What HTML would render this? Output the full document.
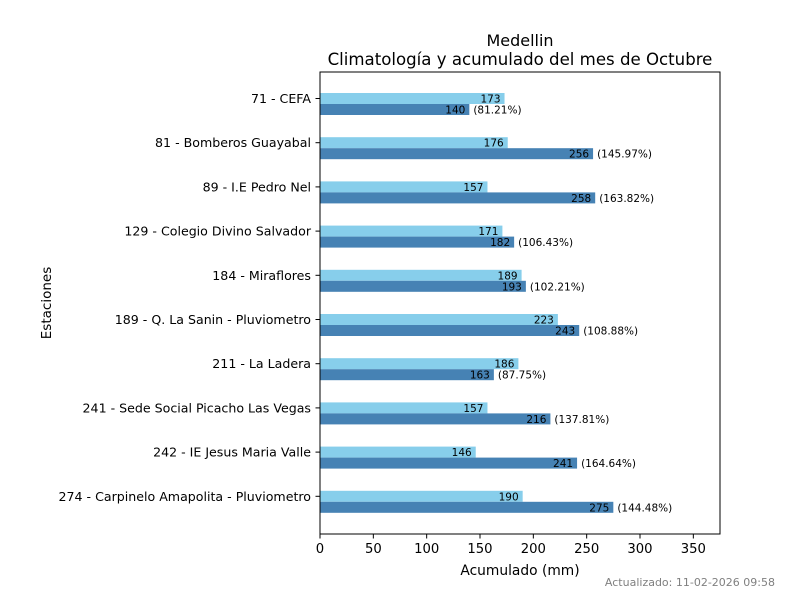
<!DOCTYPE html>
<html><head><meta charset="utf-8"><style>
body{margin:0;background:#fff}
svg{font-family:"DejaVu Sans","Liberation Sans",sans-serif}
</style></head><body>
<svg id="chart" width="800" height="600">
<rect width="800" height="600" fill="#fff"/>
<text x="520" y="46" text-anchor="middle" font-size="16">Medellin</text>
<text x="520" y="65" text-anchor="middle" font-size="16.6">Climatología y acumulado del mes de Octubre</text>
<g id="plot"></g>
<rect x="320" y="72" width="400" height="462" fill="none" stroke="#000" stroke-width="1"/>
<text x="520" y="575" text-anchor="middle" font-size="13.8">Acumulado (mm)</text>
<text x="51" y="303" text-anchor="middle" font-size="13.5" transform="rotate(-90 51 303)">Estaciones</text>
<text x="775" y="586" text-anchor="end" font-size="11" fill="#808080">Actualizado: 11-02-2026 09:58</text>
</svg>
<script>
const categories=["71 - CEFA","81 - Bomberos Guayabal","89 - I.E Pedro Nel","129 - Colegio Divino Salvador","184 - Miraflores","189 - Q. La Sanin - Pluviometro","211 - La Ladera","241 - Sede Social Picacho Las Vegas","242 - IE Jesus Maria Valle","274 - Carpinelo Amapolita - Pluviometro"];
const climatology=[173,176,157,171,189,223,186,157,146,190];
const accumulated=[140,256,258,182,193,243,163,216,241,275];
const percents=["81.21%","145.97%","163.82%","106.43%","102.21%","108.88%","87.75%","137.81%","164.64%","144.48%"];
const xTicks=[0,50,100,150,200,250,300,350];
const NS="http://www.w3.org/2000/svg";
const g=document.getElementById('plot');
const x0=320,x1=720,xmax=375;
const xs=v=>x0+v*(x1-x0)/xmax;
const ys=i=>98.5+i*44.2;
const bh=11;
function mk(t,a,txt){const e=document.createElementNS(NS,t);for(const k in a)e.setAttribute(k,a[k]);if(txt!==undefined)e.textContent=txt;g.appendChild(e);return e;}
xTicks.forEach(t=>{
 const l=mk('line',{x1:xs(t),x2:xs(t),y1:534,y2:538.5,stroke:'#000'});
 
 
 const tx=mk('text',{x:xs(t),y:553,'text-anchor':'middle','font-size':13.2},String(t));
 
 
});
categories.forEach((c,i)=>{
 const y=ys(i);
 const tk=mk('line',{x1:315.5,x2:320,y1:y,y2:y,stroke:'#000'});
 
 
 const lb=mk('text',{x:311,y:y+4.5,'text-anchor':'end','font-size':12.6},c);
 
 
 const b1=mk('rect',{x:x0,y:y-bh/2,width:xs(climatology[i])-x0,height:bh,fill:'#87CEEB'});
 
 
 const b2=mk('rect',{x:x0,y:y+bh/2,width:xs(accumulated[i])-x0,height:bh,fill:'#4682B4'});
 
 
 const t1=mk('text',{x:xs(climatology[i])-4,y:y+4,'text-anchor':'end','font-size':10.5},String(climatology[i]));
 
 
 const t2=mk('text',{x:xs(accumulated[i])-4,y:y+bh+4,'text-anchor':'end','font-size':10.5},String(accumulated[i]));
 
 
 const t3=mk('text',{x:xs(accumulated[i])+4,y:y+bh+4,'font-size':10.5},'('+percents[i]+')');
 
 
});
</script>
</body></html>
